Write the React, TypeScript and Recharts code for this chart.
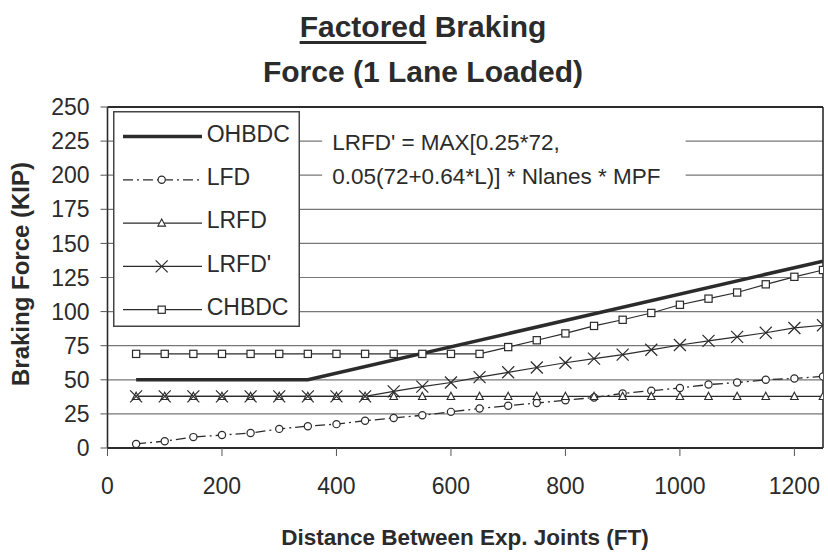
import React from "react";
import {
  LineChart,
  Line,
  XAxis,
  YAxis,
  CartesianGrid,
  Legend,
  ReferenceArea,
  ReferenceLine,
} from "recharts";

// Span between expansion joints (FT), one point every 50 ft
const distances = [
  50, 100, 150, 200, 250, 300, 350, 400, 450, 500, 550, 600, 650, 700, 750,
  800, 850, 900, 950, 1000, 1050, 1100, 1150, 1200, 1250,
];

// OHBDC is a plain polyline: flat, then one straight ramp
const ohbdcDistances = [50, 350, 1250];
const ohbdc = [50, 50, 137];

const lfd = [
  3, 5, 8, 9.5, 11, 14, 16, 17.5, 20, 22, 24, 26.5, 29, 31, 33, 35, 37, 40,
  42, 44, 46.5, 48, 50, 51, 52.5,
];
const lrfd = [
  37.8, 37.8, 37.8, 37.8, 37.8, 37.8, 37.8, 37.8, 37.8, 37.8, 37.8, 37.8,
  37.8, 37.8, 37.8, 37.8, 37.8, 37.8, 37.8, 37.8, 37.8, 37.8, 37.8, 37.8, 37.8,
];
const lrfdPrime = [
  37.8, 37.8, 37.8, 37.8, 37.8, 37.8, 37.8, 37.8, 37.8, 41.5, 45, 48, 52,
  55.5, 59, 62.5, 65.5, 68.5, 72, 75.5, 78.5, 81.5, 84.5, 88, 90,
];
const chbdc = [
  69, 69, 69, 69, 69, 69, 69, 69, 69, 69, 69, 69, 69, 74, 79, 84, 89.5, 94,
  99, 105, 109.5, 114, 120, 125.5, 130.5,
];

const xTicks = [0, 200, 400, 600, 800, 1000, 1200];
const yTicks = [0, 25, 50, 75, 100, 125, 150, 175, 200, 225, 250];

const INK = "#2b2b2b";
const FONT = "'Liberation Sans', Arial, sans-serif";

type MarkerKind = "none" | "circle" | "triangle" | "cross" | "square";

interface SeriesDef {
  name: string;
  xs: number[];
  ys: number[];
  marker: MarkerKind;
  width: number;
  dash?: string;
}

const series: SeriesDef[] = [
  { name: "OHBDC", xs: ohbdcDistances, ys: ohbdc, marker: "none", width: 3.6 },
  { name: "LFD", xs: distances, ys: lfd, marker: "circle", width: 1.3, dash: "10 4 2 4" },
  { name: "LRFD", xs: distances, ys: lrfd, marker: "triangle", width: 1.2 },
  { name: "LRFD'", xs: distances, ys: lrfdPrime, marker: "cross", width: 1.2 },
  { name: "CHBDC", xs: distances, ys: chbdc, marker: "square", width: 1.2 },
];

function toPoints(xs: number[], ys: number[]) {
  return xs.map((x, i) => ({ x, y: ys[i] }));
}

function MarkerShape({ kind, cx, cy }: { kind: MarkerKind; cx: number; cy: number }) {
  switch (kind) {
    case "circle":
      return <circle cx={cx} cy={cy} r={3.6} fill="#fff" stroke={INK} strokeWidth={1.2} />;
    case "triangle":
      return (
        <polygon
          points={`${cx},${cy - 4.2} ${cx + 3.8},${cy + 3} ${cx - 3.8},${cy + 3}`}
          fill="#fff"
          stroke={INK}
          strokeWidth={1.1}
        />
      );
    case "cross":
      return (
        <path
          d={`M${cx - 6},${cy - 6}L${cx + 6},${cy + 6}M${cx - 6},${cy + 6}L${cx + 6},${cy - 6}`}
          stroke={INK}
          strokeWidth={1.2}
          fill="none"
        />
      );
    case "square":
      return (
        <rect x={cx - 3.6} y={cy - 3.6} width={7.2} height={7.2} fill="#fff" stroke={INK} strokeWidth={1.2} />
      );
    default:
      return null;
  }
}

function makeDot(s: SeriesDef) {
  if (s.marker === "none") return false;
  return (props: any) => {
    const { cx, cy, index } = props;
    if (cx == null || cy == null) return <g key={`${s.name}-${index}`} />;
    return (
      <g key={`${s.name}-${index}`}>
        <MarkerShape kind={s.marker} cx={cx} cy={cy} />
      </g>
    );
  };
}

// Boxed legend in the top-left corner of the plot
function LegendBox() {
  return (
    <svg width={187} height={216} style={{ display: "block" }}>
      <rect x={0.75} y={0.75} width={185.5} height={214.5} fill="#fff" stroke="#444" strokeWidth={1.5} />
      {series.map((s, i) => {
        const lineY = 25.5 + i * 43.3;
        const textY = 30.7 + i * 43.3;
        return (
          <g key={s.name}>
            <line
              x1={10}
              x2={89}
              y1={lineY}
              y2={lineY}
              stroke={INK}
              strokeWidth={s.width}
              strokeDasharray={s.dash}
            />
            <MarkerShape kind={s.marker} cx={48.7} cy={lineY} />
            <text x={93.7} y={textY} fontFamily={FONT} fontSize={23} fill={INK}>
              {s.name}
            </text>
          </g>
        );
      })}
    </svg>
  );
}

function FormulaLabel(props: any) {
  const vb = props.viewBox || { x: 322, y: 128 };
  return (
    <g fontFamily={FONT} fontSize={22.5} fill={INK}>
      <text x={vb.x + 10} y={vb.y + 23}>LRFD' = MAX[0.25*72,</text>
      <text x={vb.x + 10} y={vb.y + 57}>0.05(72+0.64*L)] * Nlanes * MPF</text>
    </g>
  );
}

function YTitle() {
  return (
    <text
      x={29}
      y={274}
      transform="rotate(-90, 29, 274)"
      textAnchor="middle"
      fontFamily={FONT}
      fontSize={24}
      fontWeight="bold"
      fill={INK}
    >
      Braking Force (KIP)
    </text>
  );
}

function XTitle() {
  return (
    <text x={465} y={545} textAnchor="middle" fontFamily={FONT} fontSize={22.5} fontWeight="bold" fill={INK}>
      Distance Between Exp. Joints (FT)
    </text>
  );
}

export default function App() {
  return (
    <div style={{ position: "absolute", left: 0, top: 0, width: 828, height: 552, background: "#fff" }}>
      <div
        style={{
          position: "absolute",
          left: 9,
          top: 4,
          width: 828,
          textAlign: "center",
          fontFamily: FONT,
          fontWeight: "bold",
          fontSize: 30,
          lineHeight: "45px",
          color: INK,
          zIndex: 2,
        }}
      >
        <span
          style={{
            textDecoration: "underline",
            textDecorationThickness: "3px",
            textUnderlineOffset: "4px",
          }}
        >
          Factored
        </span>{" "}
        Braking
        <br />
        Force (1 Lane Loaded)
      </div>
      <LineChart width={828} height={552} margin={{ top: 107, right: 5, bottom: 0, left: 0 }}>
        <CartesianGrid vertical={false} stroke="#777" strokeWidth={1.2} />
        <XAxis
          type="number"
          dataKey="x"
          domain={[0, 1250]}
          ticks={xTicks}
          allowDataOverflow
          height={104}
          tickSize={8}
          tickMargin={22}
          axisLine={{ stroke: INK, strokeWidth: 2 }}
          tickLine={{ stroke: "#555" }}
          tick={{ fill: INK, fontSize: 23, fontFamily: FONT }}
          label={XTitle}
        />
        <YAxis
          type="number"
          dataKey="y"
          domain={[0, 250]}
          ticks={yTicks}
          width={107.5}
          tickSize={7}
          tickMargin={11}
          axisLine={{ stroke: INK, strokeWidth: 1.6 }}
          tickLine={{ stroke: "#555" }}
          tick={{ fill: INK, fontSize: 23, fontFamily: FONT }}
          label={YTitle}
        />
        <ReferenceLine y={250} stroke={INK} strokeWidth={2} />
        <ReferenceLine x={1250} stroke={INK} strokeWidth={1.6} />
        <ReferenceArea
          x1={375}
          x2={1010}
          y1={188}
          y2={235}
          fill="#fff"
          fillOpacity={1}
          stroke="none"
          label={FormulaLabel}
        />
        {series.map((s) => (
          <Line
            key={s.name}
            data={toPoints(s.xs, s.ys)}
            dataKey="y"
            name={s.name}
            type="linear"
            stroke={INK}
            strokeWidth={s.width}
            strokeDasharray={s.dash}
            dot={makeDot(s)}
            activeDot={false}
            isAnimationActive={false}
          />
        ))}
        <Legend
          layout="horizontal"
          align="center"
          verticalAlign="middle"
          width={187}
          height={216}
          wrapperStyle={{ left: 113, top: 111, width: 187, height: 216 }}
          content={() => <LegendBox />}
        />
      </LineChart>
    </div>
  );
}
